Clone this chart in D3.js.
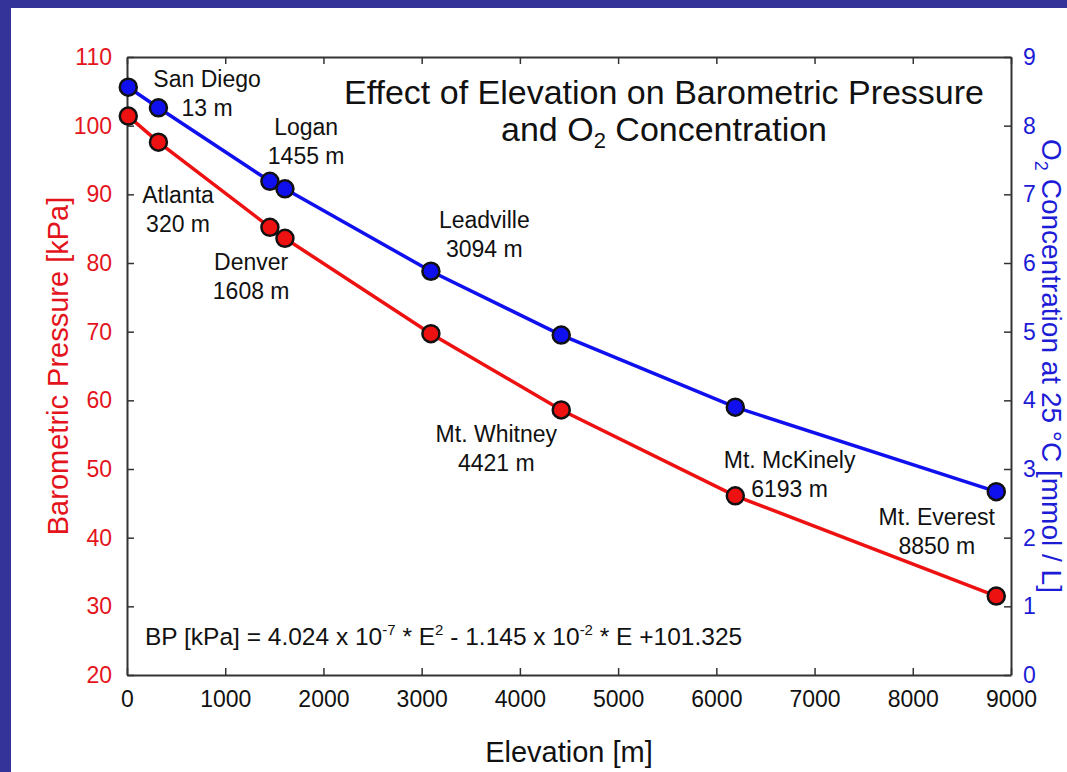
<!DOCTYPE html>
<html>
<head>
<meta charset="utf-8">
<script src="https://cdn.jsdelivr.net/npm/d3@7"></script>
<style>
  html, body { margin: 0; padding: 0; background: #33339a; }
  svg { display: block; }
  text { font-family: "Liberation Sans", Arial, Helvetica, sans-serif; }
</style>
</head>
<body>
<div id="chart"></div>
<script>
// Data
var sites = ["San Diego", "Atlanta", "Logan", "Denver", "Leadville", "Mt. Whitney", "Mt. McKinely", "Mt. Everest"];
var elevation = [13, 320, 1455, 1608, 3094, 4421, 6193, 8850];
var pressure = [101.4, 97.6, 85.2, 83.6, 69.7, 58.6, 46.1, 31.5];
var oxygen = [8.56, 8.26, 7.19, 7.08, 5.88, 4.95, 3.90, 2.67];
var xTicks = [0, 1000, 2000, 3000, 4000, 5000, 6000, 7000, 8000, 9000];
var bpTicks = [20, 30, 40, 50, 60, 70, 80, 90, 100, 110];
var o2Ticks = [0, 1, 2, 3, 4, 5, 6, 7, 8, 9];

// where each site label sits (elevation, pressure units)
var labelAt = [[815, 105.6], [520, 88.7], [1824, 98.6], [1264, 79.0],
               [3638, 85.1], [3760, 53.9], [6746, 50.1], [8244, 41.8]];

var W = 1067, H = 772;
var margin = { top: 57, right: 56, bottom: 97, left: 127 },
    width = W - margin.left - margin.right,
    height = H - margin.top - margin.bottom;

var red = "#ee1111", blue = "#1010ee";
var redText = "#e3141c", blueText = "#1c1cd6";

var x = d3.scaleLinear().domain([0, 9000]).range([0, width]);
var yBP = d3.scaleLinear().domain([20, 110]).range([height, 0]);
var yO2 = d3.scaleLinear().domain([0, 9]).range([height, 0]);

var root = d3.select("#chart").append("svg")
    .attr("width", W)
    .attr("height", H);

// white panel inside the blue border
root.append("rect")
    .attr("x", 11).attr("y", 8)
    .attr("width", W - 11).attr("height", H - 8)
    .attr("fill", "#ffffff");

var svg = root.append("g")
    .attr("transform", "translate(" + margin.left + "," + margin.top + ")");

// axes (ticks point inside the frame)
function styleAxis(g, color) {
    g.select(".domain").attr("stroke", "#333").attr("stroke-width", 2);
    g.selectAll(".tick line").attr("stroke", "#333").attr("stroke-width", 1.5);
    g.selectAll(".tick text")
        .attr("fill", color)
        .style("font-size", "23px")
        .style("font-family", "'Liberation Sans', Arial, sans-serif");
}

svg.append("g")
    .attr("transform", "translate(0," + height + ")")
    .call(d3.axisBottom(x).tickValues(xTicks).tickSize(-7).tickSizeOuter(0)
        .tickPadding(16).tickFormat(d3.format("d")))
    .call(styleAxis, "#111");

svg.append("g")
    .call(d3.axisTop(x).tickValues(xTicks).tickSize(-7).tickSizeOuter(0).tickFormat(""))
    .call(styleAxis, "#111");

svg.append("g")
    .call(d3.axisLeft(yBP).tickValues(bpTicks).tickSize(-7).tickSizeOuter(0).tickPadding(15))
    .call(styleAxis, redText);

svg.append("g")
    .attr("transform", "translate(" + width + ",0)")
    .call(d3.axisRight(yO2).tickValues(o2Ticks).tickSize(-7).tickSizeOuter(0).tickPadding(12))
    .call(styleAxis, blueText);

// curves
var bpPts = elevation.map(function (e, i) { return [e, pressure[i]]; });
var o2Pts = elevation.map(function (e, i) { return [e, oxygen[i]]; });

var bpLine = d3.line()
    .x(function (d) { return x(d[0]); })
    .y(function (d) { return yBP(d[1]); });
var o2Line = d3.line()
    .x(function (d) { return x(d[0]); })
    .y(function (d) { return yO2(d[1]); });

svg.append("path").datum(o2Pts)
    .attr("d", o2Line).attr("fill", "none")
    .attr("stroke", blue).attr("stroke-width", 3.5);
svg.append("path").datum(bpPts)
    .attr("d", bpLine).attr("fill", "none")
    .attr("stroke", red).attr("stroke-width", 3.5);

svg.selectAll(".o2dot")
    .data(o2Pts)
    .enter().append("circle")
    .attr("cx", function (d) { return x(d[0]); })
    .attr("cy", function (d) { return yO2(d[1]); })
    .attr("r", 8.5)
    .attr("fill", blue).attr("stroke", "#111").attr("stroke-width", 2.5);

svg.selectAll(".bpdot")
    .data(bpPts)
    .enter().append("circle")
    .attr("cx", function (d) { return x(d[0]); })
    .attr("cy", function (d) { return yBP(d[1]); })
    .attr("r", 8.5)
    .attr("fill", red).attr("stroke", "#111").attr("stroke-width", 2.5);

// site labels
var labels = svg.selectAll(".site")
    .data(sites)
    .enter().append("text")
    .attr("text-anchor", "middle")
    .attr("fill", "#111")
    .style("font-size", "23px")
    .attr("transform", function (d, i) {
        return "translate(" + x(labelAt[i][0]) + "," + yBP(labelAt[i][1]) + ")";
    });
labels.append("tspan").attr("x", 0).attr("y", 0).text(function (d) { return d; });
labels.append("tspan").attr("x", 0).attr("y", 29)
    .text(function (d, i) { return elevation[i] + " m"; });

// title
var title = svg.append("text")
    .attr("text-anchor", "middle")
    .attr("fill", "#111")
    .style("font-size", "34px")
    .attr("transform", "translate(" + (664 - margin.left) + ",0)");
title.append("tspan").attr("x", 0).attr("y", 104 - margin.top)
    .text("Effect of Elevation on Barometric Pressure");
var t2 = title.append("tspan").attr("x", 0).attr("y", 141 - margin.top);
t2.append("tspan").text("and O");
t2.append("tspan").attr("dy", 7).style("font-size", "22px").text("2");
t2.append("tspan").attr("dy", -7).text(" Concentration");

// equation
var eq = svg.append("text")
    .attr("x", 145 - margin.left)
    .attr("y", 645 - margin.top)
    .attr("fill", "#111")
    .style("font-size", "24.5px");
eq.append("tspan").text("BP [kPa] = 4.024 x 10");
eq.append("tspan").attr("dy", -10).style("font-size", "15px").text("-7");
eq.append("tspan").attr("dy", 10).text(" * E");
eq.append("tspan").attr("dy", -10).style("font-size", "15px").text("2");
eq.append("tspan").attr("dy", 10).text(" - 1.145 x 10");
eq.append("tspan").attr("dy", -10).style("font-size", "15px").text("-2");
eq.append("tspan").attr("dy", 10).text(" * E +101.325");

// axis titles
svg.append("text")
    .attr("text-anchor", "middle")
    .attr("x", width / 2)
    .attr("y", 762 - margin.top)
    .attr("fill", "#111")
    .style("font-size", "29px")
    .text("Elevation [m]");

svg.append("text")
    .attr("text-anchor", "middle")
    .attr("transform", "translate(" + (68 - margin.left) + "," + (height / 2) + ") rotate(-90)")
    .attr("fill", redText)
    .style("font-size", "29px")
    .text("Barometric Pressure [kPa]");

var r = svg.append("text")
    .attr("text-anchor", "middle")
    .attr("transform", "translate(" + (1042 - margin.left) + "," + (height / 2) + ") rotate(90)")
    .attr("fill", blueText)
    .style("font-size", "28px");
r.append("tspan").text("O");
r.append("tspan").attr("dy", 7).style("font-size", "18px").text("2");
r.append("tspan").attr("dy", -7).text(" Concentration at 25 °C [mmol / L]");
</script>
</body>
</html>
